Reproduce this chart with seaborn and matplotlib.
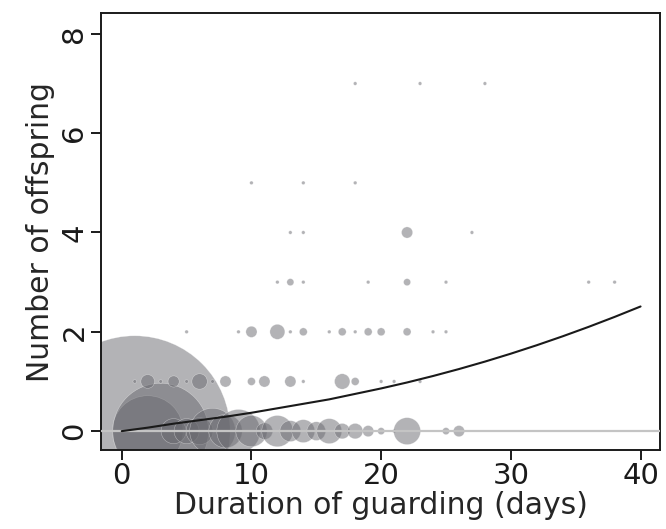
import matplotlib
matplotlib.use("Agg")
import matplotlib.pyplot as plt
import seaborn as sns
import pandas as pd
import numpy as np

# ---- data ----
# offspring = 0 row: guarding days and bubble weights
days_0 = [1, 2, 3, 4, 5, 6, 7, 8, 9, 10, 11, 12, 13, 14, 15, 16, 17, 18, 19, 20, 21, 22, 25, 26]
w_0 = [2900, 400, 730, 50, 50, 58, 167, 89, 150, 78, 22, 78, 35, 42, 28, 50, 19, 19, 10, 4, 1, 58, 4, 10]

days_1 = [1, 2, 3, 4, 5, 6, 7, 8, 10, 11, 13, 14, 17, 18, 20, 21, 23]
w_1 = [1, 15, 1, 10, 1, 19, 1, 10, 5, 10, 10, 1, 19, 5, 1, 1, 1]

days_2 = [5, 9, 10, 12, 13, 14, 16, 17, 18, 19, 20, 22, 24, 25]
w_2 = [1, 1, 10, 18, 1, 5, 1, 5, 1, 5, 5, 5, 1, 1]

days_3 = [12, 13, 14, 19, 22, 25, 36, 38]
w_3 = [1, 4, 1, 1, 4, 1, 1, 1]

days_4 = [13, 14, 22, 27]
w_4 = [1, 1, 10, 1]

days_5 = [10, 14, 18]
w_5 = [1, 1, 1]

days_7 = [18, 23, 28]
w_7 = [1, 1, 1]

# fitted curve
curve_x = [0, 2, 4, 6, 8, 10, 12, 14, 16, 18, 20, 22, 24, 26, 28, 30, 32, 34, 36, 38, 40]
curve_y = [0.0, 0.07, 0.15, 0.22, 0.29, 0.37, 0.46, 0.55, 0.64, 0.75, 0.86, 0.98,
           1.11, 1.25, 1.40, 1.56, 1.73, 1.91, 2.10, 2.30, 2.51]

x_ticks = [0, 10, 20, 30, 40]
y_ticks = [0, 2, 4, 6, 8]

# ---- build table ----
rows = []
for yv, dd, ww in [(0, days_0, w_0), (1, days_1, w_1), (2, days_2, w_2), (3, days_3, w_3),
                   (4, days_4, w_4), (5, days_5, w_5), (7, days_7, w_7)]:
    for d, w in zip(dd, ww):
        rows.append({"days": d, "offspring": yv, "weight": w})
df = pd.DataFrame(rows)
curve = pd.DataFrame({"days": curve_x, "fit": curve_y})

sns.set_theme(style="white")
plt.rcParams["font.family"] = ["DejaVu Sans"]

fig = plt.figure(figsize=(6.66, 5.29), dpi=100)
ax = fig.add_axes([101 / 666, 1 - 450 / 529, (660 - 101) / 666, (450 - 13) / 529])

wmax = max(df["weight"])
sns.scatterplot(data=df, x="days", y="offspring", size="weight",
                sizes=(0, 6.5 * wmax), size_norm=(0, wmax),
                color="#69696f", alpha=0.5, edgecolor="white", linewidth=0.35,
                legend=False, ax=ax, zorder=2)

ax.axhline(0, color="#c4c4c4", lw=1.6, zorder=3)
sns.lineplot(data=curve, x="days", y="fit", color="#1a1a1a", lw=1.5, ax=ax, zorder=4)

ax.set_xlim(-1.6, 41.5)
ax.set_ylim(-0.38, 8.42)
ax.set_xticks(x_ticks)
ax.set_yticks(y_ticks)
ax.set_xticklabels([str(t) for t in x_ticks], fontsize=21)
ax.set_yticklabels([str(t) for t in y_ticks], fontsize=21, rotation=90, va="center")
ax.set_xlabel("Duration of guarding (days)", fontsize=21.5, labelpad=0)
ax.set_ylabel("Number of offspring", fontsize=21.5, labelpad=4)
ax.tick_params(axis="both", direction="out", length=7, width=1.4, color="#1a1a1a",
               colors="#1a1a1a", pad=2, bottom=True, left=True)
for s in ax.spines.values():
    s.set_visible(True)
    s.set_color("#1a1a1a")
    s.set_linewidth(1.4)
ax.grid(False)

fig.savefig("out.png", dpi=100)
